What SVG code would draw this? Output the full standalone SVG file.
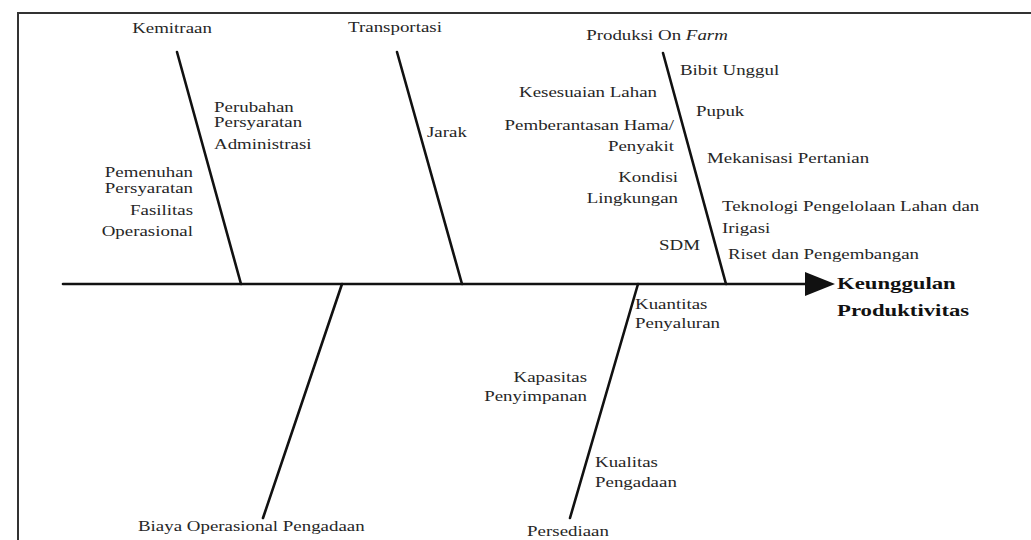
<svg xmlns="http://www.w3.org/2000/svg" width="1031" height="540" viewBox="0 0 1031 540">
<style>
.t{font-family:"Liberation Serif","Times New Roman",serif;font-size:14px;fill:#262626}
.b{font-family:"Liberation Serif","Times New Roman",serif;font-size:17.5px;font-weight:bold;fill:#111}
.e{text-anchor:end}
.m{text-anchor:middle}
.bone{stroke:#111;stroke-width:2.6;fill:none;stroke-linecap:round}
</style>
<rect width="1031" height="540" fill="#fff"/>
<rect x="18" y="13" width="1040" height="560" fill="none" stroke="#333" stroke-width="2"/>
<g id="connectors">
<line class="bone" x1="63" y1="284" x2="810" y2="284" stroke-width="3"/>
<polygon points="805,272 835,284 805,296" fill="#111"/>
<line class="bone" x1="177" y1="52" x2="241" y2="284"/>
<line class="bone" x1="397" y1="52" x2="462" y2="284"/>
<line class="bone" x1="663" y1="53" x2="726" y2="284"/>
<line class="bone" x1="342" y1="284" x2="263" y2="518"/>
<line class="bone" x1="638" y1="284" x2="570" y2="518"/>
</g>
<g id="effect"><text class="b" transform="translate(837,289) scale(1.3,1)"><tspan x="0" y="0">Keunggulan</tspan><tspan x="0" y="27">Produktivitas</tspan></text></g>
<g id="kemitraan">
<text class="t m" transform="translate(172,33) scale(1.35,1)">Kemitraan</text>
<text class="t" transform="translate(214,112) scale(1.35,1)"><tspan x="0" y="0">Perubahan</tspan><tspan x="0" y="15">Persyaratan</tspan><tspan x="0" y="37">Administrasi</tspan></text>
<text class="t e" transform="translate(193,177) scale(1.35,1)"><tspan x="0" y="0">Pemenuhan</tspan><tspan x="0" y="16">Persyaratan</tspan><tspan x="0" y="38">Fasilitas</tspan><tspan x="0" y="59">Operasional</tspan></text>
</g>
<g id="transportasi">
<text class="t m" transform="translate(395,32) scale(1.35,1)">Transportasi</text>
<text class="t" transform="translate(427,137) scale(1.35,1)">Jarak</text>
</g>
<g id="produksi">
<text class="t m" transform="translate(657,40) scale(1.35,1)">Produksi On <tspan font-style="italic">Farm</tspan></text>
<text class="t" transform="translate(680,75) scale(1.35,1)">Bibit Unggul</text>
<text class="t e" transform="translate(657,97) scale(1.35,1)">Kesesuaian Lahan</text>
<text class="t" transform="translate(696,116) scale(1.35,1)">Pupuk</text>
<text class="t e" transform="translate(674,130) scale(1.35,1)"><tspan x="0" y="0">Pemberantasan Hama/</tspan><tspan x="0" y="21">Penyakit</tspan></text>
<text class="t" transform="translate(707,163) scale(1.35,1)">Mekanisasi Pertanian</text>
<text class="t e" transform="translate(678,182) scale(1.35,1)"><tspan x="0" y="0">Kondisi</tspan><tspan x="0" y="21">Lingkungan</tspan></text>
<text class="t" transform="translate(722,211) scale(1.35,1)"><tspan x="0" y="0">Teknologi Pengelolaan Lahan dan</tspan><tspan x="0" y="22">Irigasi</tspan></text>
<text class="t e" transform="translate(700,250) scale(1.35,1)">SDM</text>
<text class="t" transform="translate(728,259) scale(1.35,1)">Riset dan Pengembangan</text>
</g>
<g id="biaya">
<text class="t" transform="translate(138,531) scale(1.35,1)">Biaya Operasional Pengadaan</text>
</g>
<g id="persediaan">
<text class="t m" transform="translate(568,536) scale(1.35,1)">Persediaan</text>
<text class="t" transform="translate(635,309) scale(1.35,1)"><tspan x="0" y="0">Kuantitas</tspan><tspan x="0" y="19">Penyaluran</tspan></text>
<text class="t e" transform="translate(587,382) scale(1.35,1)"><tspan x="0" y="0">Kapasitas</tspan><tspan x="0" y="19">Penyimpanan</tspan></text>
<text class="t" transform="translate(595,467) scale(1.35,1)"><tspan x="0" y="0">Kualitas</tspan><tspan x="0" y="20">Pengadaan</tspan></text>
</g>
</svg>
